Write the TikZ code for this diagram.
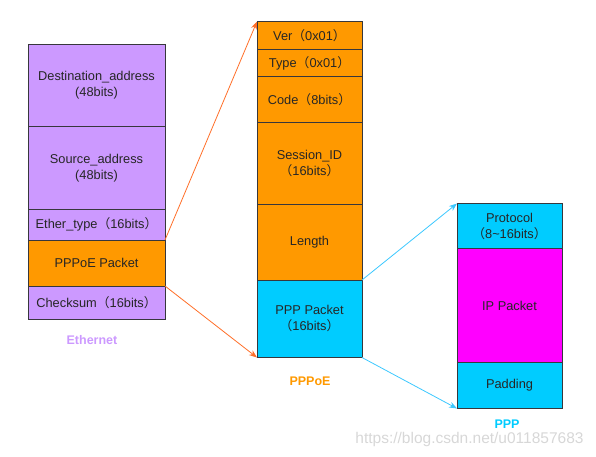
\documentclass[tikz,border=0pt]{standalone}
\usepackage{fontspec}
\setmainfont{Liberation Sans}
\newfontfamily\cjk{Noto Sans CJK SC}
\usepackage{tikz}
\usetikzlibrary{positioning,arrows.meta}

\definecolor{ethpurple}{RGB}{204,153,255}
\definecolor{pppoeorange}{RGB}{255,153,0}
\definecolor{pppblue}{RGB}{0,204,255}
\definecolor{ipmagenta}{RGB}{255,0,255}
\definecolor{framegray}{RGB}{55,55,60}
\definecolor{linkorange}{RGB}{255,110,40}
\definecolor{linkblue}{RGB}{60,200,255}
\definecolor{markgray}{RGB}{215,215,215}

\newcommand{\lpar}{{\cjk （}}
\newcommand{\rpar}{{\cjk ）}}

\begin{document}
\begin{tikzpicture}[x=1pt, y=-1pt,
    font=\fontsize{12.8}{16}\selectfont,
    field/.style={draw=framegray, line width=0.8pt, inner sep=0pt,
        outer sep=0pt, align=center, text=black!85},
    ethfield/.style={field, minimum width=137pt, fill=ethpurple},
    pppoefield/.style={field, minimum width=105pt, fill=pppoeorange},
    pppfield/.style={field, minimum width=105pt, fill=pppblue},
    link/.style={-{Stealth[length=8pt,width=6pt]}, line width=0.8pt},
    caption/.style={font=\fontsize{12.5}{16}\selectfont\bfseries}
]

    \useasboundingbox (0,0) rectangle (596,456);

    % Ethernet frame
    \node[ethfield,
        minimum height=82pt,
        anchor=north west
    ] (dst) at (28,44.5) {Destination\_address\\(48bits)};

    \node[ethfield,
        minimum height=82.5pt,
        below=0pt of dst
    ] (src) {Source\_address\\(48bits)};

    \node[ethfield,
        minimum height=31pt,
        below=0pt of src
    ] (ethtype) {Ether\_type\lpar 16bits\rpar};

    \node[ethfield,
        fill=pppoeorange,
        minimum height=46pt,
        below=0pt of ethtype
    ] (pppoepkt) {PPPoE Packet};

    \node[ethfield,
        minimum height=33pt,
        below=0pt of pppoepkt
    ] (checksum) {Checksum\lpar 16bits\rpar};

    % PPPoE frame
    \node[pppoefield,
        minimum height=28pt,
        anchor=north west
    ] (ver) at (257,21.5) {Ver\lpar 0x01\rpar};

    \node[pppoefield,
        minimum height=27pt,
        below=0pt of ver
    ] (type) {Type\lpar 0x01\rpar};

    \node[pppoefield,
        minimum height=45.5pt,
        below=0pt of type
    ] (code) {Code\lpar 8bits\rpar};

    \node[pppoefield,
        minimum height=82pt,
        below=0pt of code
    ] (session) {Session\_ID\\\lpar 16bits\rpar};

    \node[pppoefield,
        minimum height=76pt,
        below=0pt of session
    ] (length) {Length};

    \node[pppoefield,
        fill=pppblue,
        minimum height=77.5pt,
        below=0pt of length
    ] (ppppkt) {PPP Packet\\\lpar 16bits\rpar};

    % PPP frame
    \node[pppfield,
        minimum height=45pt,
        anchor=north west
    ] (protocol) at (457,203.5) {Protocol\\\lpar 8\textasciitilde 16bits\rpar};

    \node[pppfield,
        fill=ipmagenta,
        minimum height=114pt,
        below=0pt of protocol
    ] (ippkt) {IP Packet};

    \node[pppfield,
        minimum height=46pt,
        below=0pt of ippkt
    ] (padding) {Padding};

    % Arrows
    \draw[link, linkorange] (pppoepkt.north east) -- (ver.north west);

    \draw[link, linkorange] (pppoepkt.south east) -- (ppppkt.south west);

    \draw[link, linkblue] (ppppkt.north east) -- (protocol.north west);

    \draw[link, linkblue] (ppppkt.south east) -- (padding.south west);

    % Captions
    \node[caption, text=ethpurple] (ethlabel) at (92,340) {Ethernet};
    \node[caption, text=pppoeorange] (pppoelabel) at (310,381) {PPPoE};
    \node[caption, text=pppblue] (ppplabel) at (507,424) {PPP};

    \node[text=markgray, font=\fontsize{15.5}{18}\selectfont]
    (watermark) at (469.5,439) {https://blog.csdn.net/u011857683};

\end{tikzpicture}
\end{document}
